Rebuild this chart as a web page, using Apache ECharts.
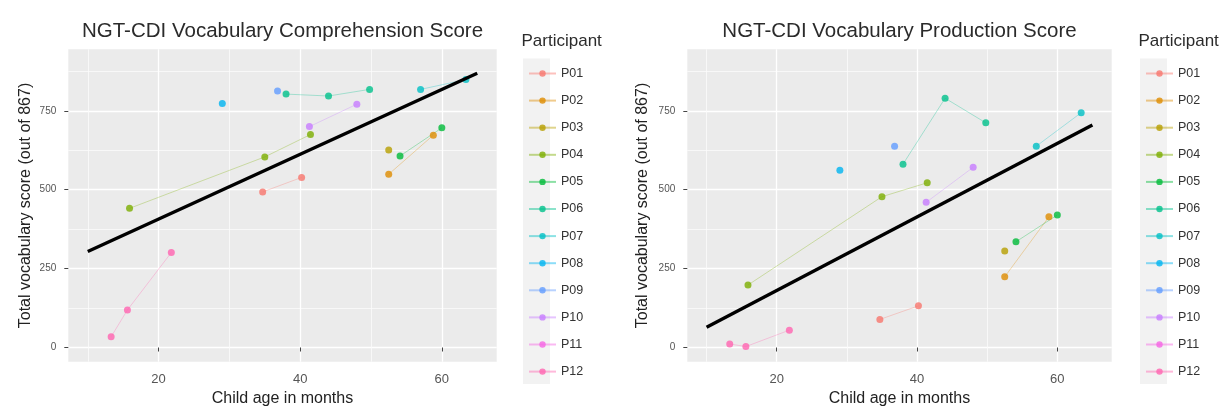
<!DOCTYPE html>
<html>
<head>
<meta charset="utf-8">
<script src="https://cdn.jsdelivr.net/npm/echarts@6/dist/echarts.min.js"></script>
<style>
html,body{margin:0;padding:0;background:#fff;}
#chart{width:1222px;height:409px;}
</style>
</head>
<body>
<div id="chart"></div>
<script>
// ---- data ----
const participants = ['P01','P02','P03','P04','P05','P06','P07','P08','P09','P10','P11','P12'];
// one entry per observation
const obsParticipant = ['P01','P01','P02','P02','P03','P04','P04','P04','P05','P05','P06','P06','P06','P07','P07','P08','P09','P10','P10','P12','P12','P12'];
const obsAge        = [34.7, 40.2, 52.5, 58.8, 52.5, 15.9, 35.0, 41.45, 54.1, 60.0, 38.0, 44.0, 49.8, 57.0, 63.4, 29.0, 36.8, 41.3, 48.0, 13.3, 15.6, 21.8];
const obsComp       = [493, 539, 549, 673, 626, 441, 604, 675, 607, 696, 803, 797, 818, 818, 849, 773, 813, 700, 771, 34, 119, 301];
const obsProd       = [89, 132, 224, 414, 306, 198, 478, 522, 335, 420, 581, 790, 712, 638, 744, 562, 638, 460, 571, 11, 3, 55];
// black trend line end points
const fitAge  = [10, 65];
const fitComp = [304, 869];
const fitProd = [64, 705];
// axis breaks
const xTicks = [20, 40, 60];
const xMinor = [10, 30, 50];
const yTicks = [0, 250, 500, 750];
const yMinor = [125, 375, 625, 875];
const titles = ['NGT-CDI Vocabulary Comprehension Score', 'NGT-CDI Vocabulary Production Score'];
const xTitle = 'Child age in months';
const yTitle = 'Total vocabulary score (out of 867)';
const legendTitle = 'Participant';

// ---- style ----
const palette = ['#F8766D','#DE8C00','#B79F00','#7CAE00','#00BA38','#00C08B','#00BFC4','#00B4F0','#619CFF','#C77CFF','#F564E3','#FF64B0'];
const FONT = 'Liberation Sans, Arial, sans-serif';
const grids = [
  {left: 68.3, top: 49.3, width: 428.4, height: 312.4},
  {left: 687.3, top: 49.3, width: 424.4, height: 312.4}
];
const legendLeft = [523, 1140];

function hexA(hex, a){
  const n = parseInt(hex.slice(1),16);
  return 'rgba(' + ((n>>16)&255) + ',' + ((n>>8)&255) + ',' + (n&255) + ',' + a + ')';
}

const xAxis = [], yAxis = [], series = [], legend = [], graphic = [];
grids.forEach((g, gi) => {
  // major axes
  xAxis.push({
    type: 'value', gridIndex: gi, min: 7.25, max: 67.75,
    axisLine: {show: false},
    axisTick: {show: true, length: 4, lineStyle: {color: '#444', width: 1}, customValues: xTicks},
    axisLabel: {customValues: xTicks, color: '#555', fontSize: 13, margin: 11, fontFamily: FONT},
    splitLine: {show: true, lineStyle: {color: '#ffffff', width: 1.3}},
    name: xTitle, nameLocation: 'middle', nameGap: 29,
    nameTextStyle: {fontSize: 16, color: '#222', fontFamily: FONT}
  });
  // minor axes
  xAxis.push({
    type: 'value', gridIndex: gi, min: 7.25, max: 67.75,
    axisLine: {show: false}, axisLabel: {show: false},
    axisTick: {show: false, customValues: xMinor},
    splitLine: {show: true, lineStyle: {color: '#fbfbfb', width: 0.8}}
  });
  yAxis.push({
    type: 'value', gridIndex: gi, min: -45, max: 945,
    axisLine: {show: false},
    axisTick: {show: true, length: 4, lineStyle: {color: '#444', width: 1}, customValues: yTicks},
    axisLabel: {customValues: yTicks, color: '#555', fontSize: 10, margin: 12, fontFamily: FONT},
    splitLine: {show: true, lineStyle: {color: '#ffffff', width: 1.3}},
    name: yTitle, nameLocation: 'middle', nameGap: gi === 0 ? 35 : 37,
    nameTextStyle: {fontSize: 16, color: '#222', fontFamily: FONT}
  });
  yAxis.push({
    type: 'value', gridIndex: gi, min: -45, max: 945,
    axisLine: {show: false}, axisLabel: {show: false},
    axisTick: {show: false, customValues: yMinor},
    splitLine: {show: true, lineStyle: {color: '#fbfbfb', width: 0.8}}
  });

  const vals = gi === 0 ? obsComp : obsProd;
  participants.forEach((p, pi) => {
    const pts = [];
    obsParticipant.forEach((q, k) => { if (q === p) pts.push([obsAge[k], vals[k]]); });
    pts.sort((a, b) => a[0] - b[0]);
    series.push({
      type: 'line', name: p, xAxisIndex: gi * 2, yAxisIndex: gi * 2,
      data: pts, symbol: 'circle', symbolSize: 7, showSymbol: true,
      lineStyle: {color: hexA(palette[pi], 0.45), width: 0.7},
      itemStyle: {color: hexA(palette[pi], 0.8), borderWidth: 0},
      emphasis: {disabled: true}, animation: false, z: 3
    });
  });
  const fit = gi === 0 ? fitComp : fitProd;
  series.push({
    type: 'line', name: 'fit', xAxisIndex: gi * 2, yAxisIndex: gi * 2,
    data: fitAge.map((a, k) => [a, fit[k]]), symbol: 'none',
    lineStyle: {color: '#000', width: 3.4}, animation: false, z: 4
  });

  legend.push({
    data: participants, orient: 'vertical', left: legendLeft[gi], top: 61.5,
    itemWidth: 27, itemHeight: 8, itemGap: 13.1,
    textStyle: {fontSize: 12.5, color: '#333', fontFamily: FONT, lineHeight: 14},
    selectedMode: false
  });

  graphic.push({
    type: 'text', x: g.left + g.width / 2, y: 31,
    style: {text: titles[gi], font: '20.5px ' + FONT, fill: '#2b2b2b', align: 'center', verticalAlign: 'middle'}
  });
  graphic.push({
    type: 'text', x: legendLeft[gi] - 1.5, y: 41.7,
    style: {text: legendTitle, font: '17px ' + FONT, fill: '#2b2b2b', align: 'left', verticalAlign: 'middle'}
  });
  graphic.push({
    type: 'rect', z: -1, shape: {x: legendLeft[gi], y: 58.5, width: 27, height: 325.5},
    style: {fill: '#f2f2f2'}
  });
});

const chart = echarts.init(document.getElementById('chart'), null, {renderer: 'canvas'});
chart.setOption({
  backgroundColor: '#ffffff',
  animation: false,
  grid: grids.map(g => Object.assign({backgroundColor: '#ebebeb', show: true, borderWidth: 0, containLabel: false, outerBoundsMode: 'none'}, g)),
  xAxis, yAxis, series, legend, graphic
});
</script>
</body>
</html>
